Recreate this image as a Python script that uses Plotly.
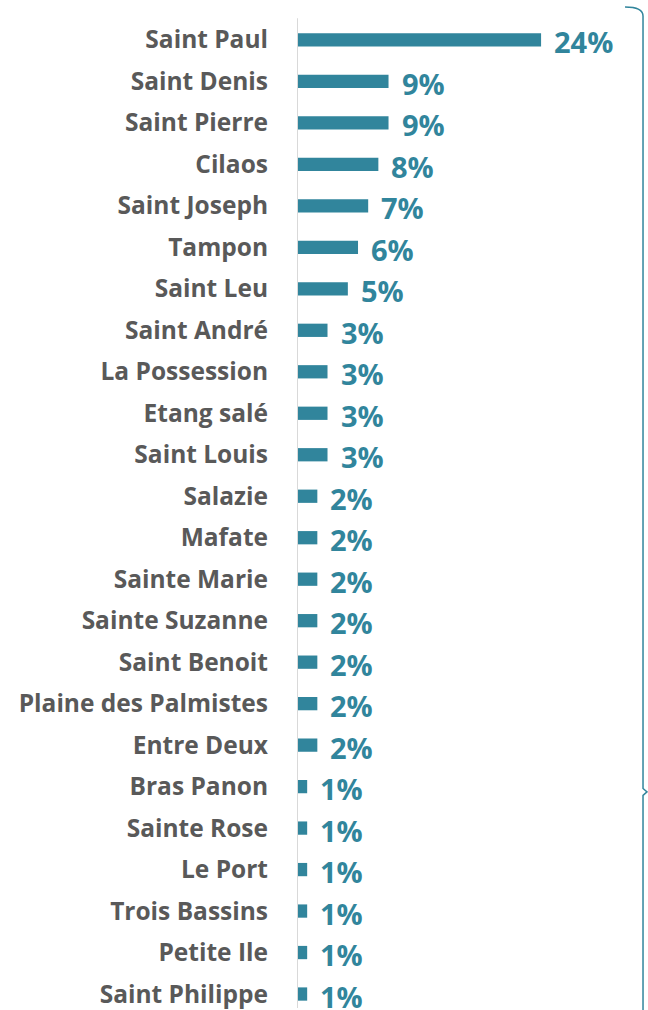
import plotly.graph_objects as go

categories = ["Saint Paul", "Saint Denis", "Saint Pierre", "Cilaos", "Saint Joseph",
              "Tampon", "Saint Leu", "Saint André", "La Possession", "Etang salé",
              "Saint Louis", "Salazie", "Mafate", "Sainte Marie", "Sainte Suzanne",
              "Saint Benoit", "Plaine des Palmistes", "Entre Deux", "Bras Panon",
              "Sainte Rose", "Le Port", "Trois Bassins", "Petite Ile", "Saint Philippe"]
values = [24, 9, 9, 8, 7, 6, 5, 3, 3, 3, 3, 2, 2, 2, 2, 2, 2, 2, 1, 1, 1, 1, 1, 1]
labels = [f"{v}%" for v in values]

TEAL = "#31859C"
GRAY = "#595959"

FIG_W, FIG_H = 648, 1010
AXIS_X = 297
PLOT_W = FIG_W - AXIS_X
PX_PER_PCT = 10.17
ROW = 41.565
FIRST_ROW_Y = 40

fig = go.Figure(go.Bar(
    x=values, y=categories, orientation="h",
    marker=dict(color=TEAL, line=dict(width=0)),
    width=0.32,
    hoverinfo="skip",
))

for c, v, t in zip(categories, values, labels):
    fig.add_annotation(x=v, y=c, text=t, showarrow=False, xanchor="left",
                       yanchor="middle", xshift=11, yshift=-2,
                       font=dict(family="Open Sans", size=29, color=TEAL, weight="bold"))

# vertical axis line
fig.add_shape(type="line", xref="x", yref="y", x0=0, x1=0, y0=-0.52, y1=23.6,
              line=dict(color="#D9D9D9", width=2))

# curly bracket on the right (pixel positions converted to paper coordinates)
def px(x):
    return (x - AXIS_X) / PLOT_W
def py(y):
    return 1 - y / FIG_H
path = (f"M {px(625):.4f},{py(7):.4f} Q {px(643):.4f},{py(7):.4f} {px(643):.4f},{py(16):.4f} "
        f"L {px(643):.4f},{py(790):.4f} L {px(647):.4f},{py(793.5):.4f} "
        f"L {px(643):.4f},{py(797):.4f} L {px(643):.4f},{py(1014):.4f}")
fig.add_shape(type="path", xref="paper", yref="paper", path=path,
              line=dict(color=TEAL, width=1.5))

fig.update_layout(
    width=FIG_W, height=FIG_H,
    margin=dict(l=AXIS_X, r=0, t=0, b=0, pad=0),
    paper_bgcolor="white", plot_bgcolor="white",
    showlegend=False,
    xaxis=dict(range=[0, PLOT_W / PX_PER_PCT], visible=False, fixedrange=True),
    yaxis=dict(range=[23 + (FIG_H - (FIRST_ROW_Y + 23 * ROW)) / ROW, -FIRST_ROW_Y / ROW],
               showline=False, showgrid=False, fixedrange=True,
               zeroline=False, ticks="", ticklabelstandoff=28,
               tickfont=dict(family="Open Sans", size=24.5, color=GRAY, weight="bold")),
)

fig.write_html(
    "out.html",
    config={"displayModeBar": False, "staticPlot": True},
    post_script="document.body.style.margin='0';"
                "document.documentElement.style.overflow='hidden';"
                "document.body.style.overflow='hidden';",
)
